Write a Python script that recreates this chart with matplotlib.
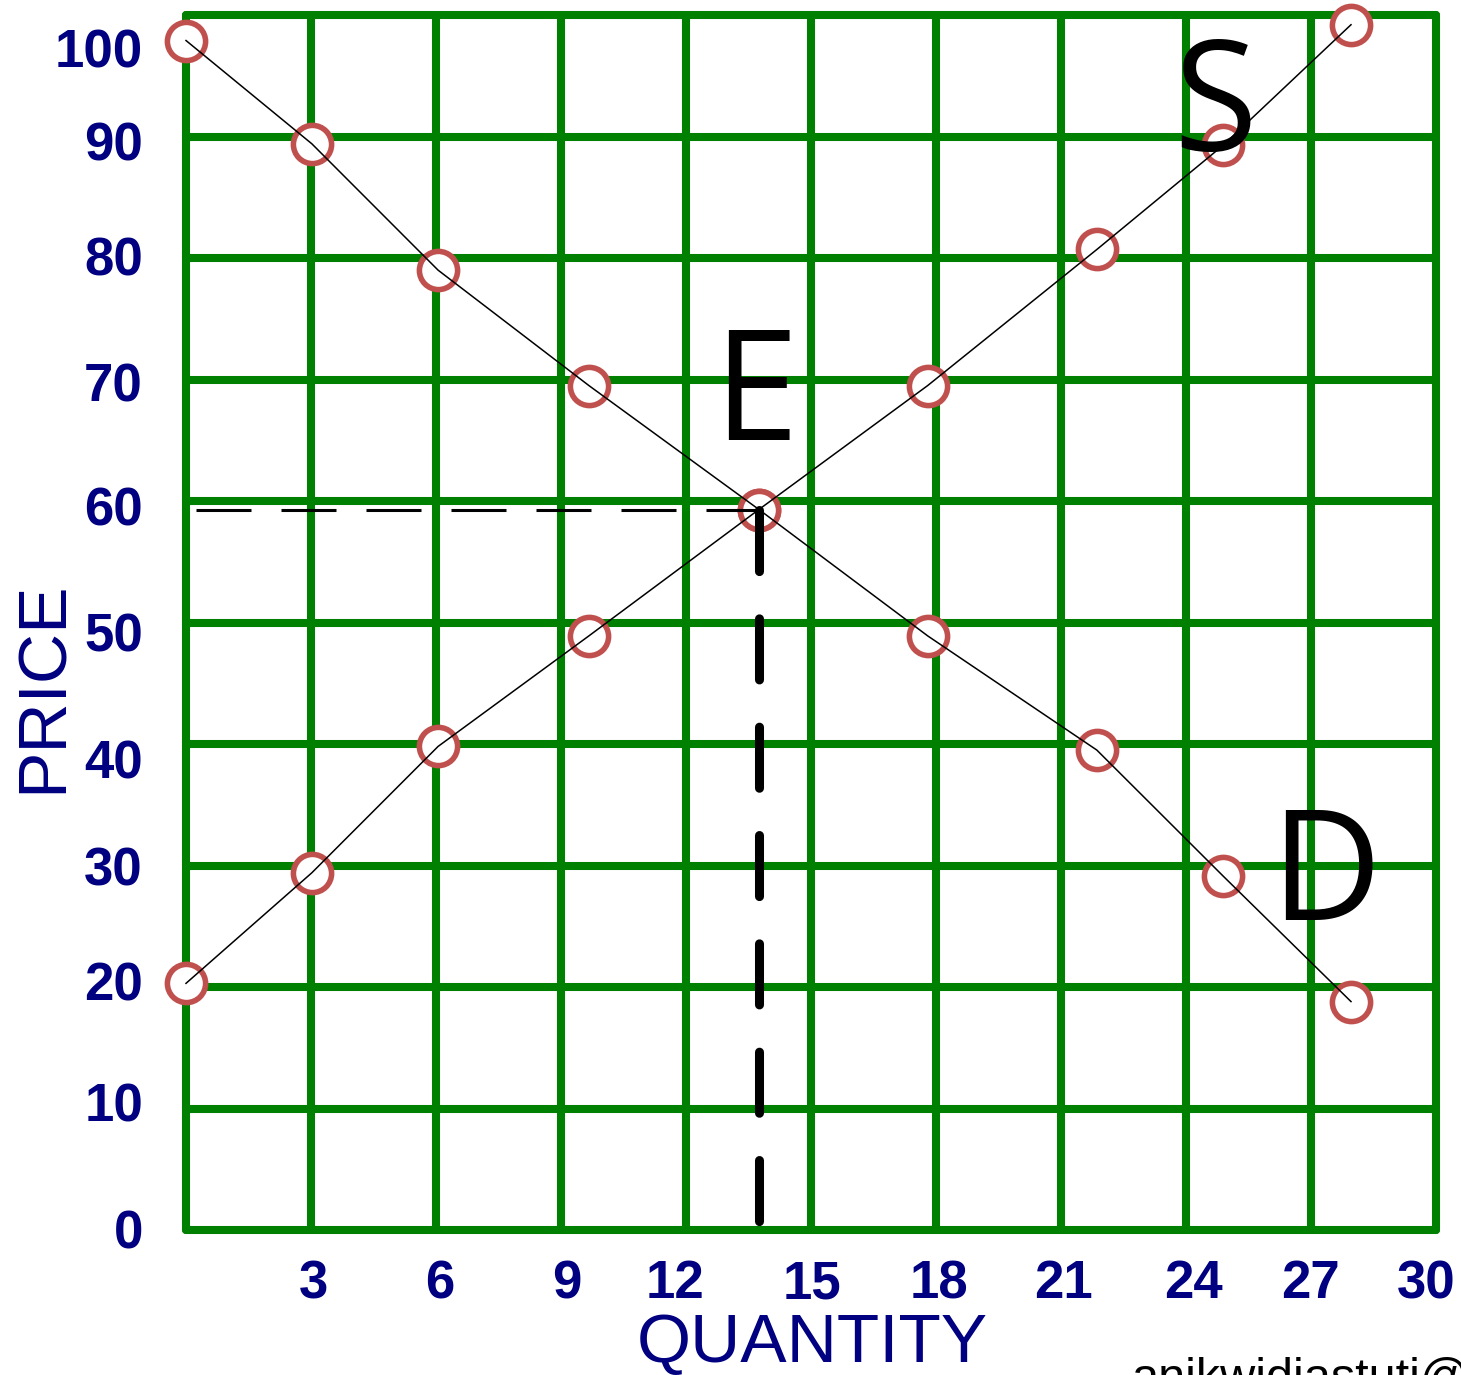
import matplotlib
matplotlib.use('Agg')
import matplotlib.pyplot as plt
import numpy as np

# ---------------- data ----------------
quantity = [0, 3.02, 6.05, 9.67, 13.75, 17.8, 21.86, 24.9, 27.96]
demand_price = [97.9, 89.4, 79.0, 69.5, 59.3, 48.9, 39.5, 29.1, 18.8]
supply_price = [20.3, 29.4, 39.8, 48.9, 59.3, 69.5, 80.7, 89.3, 99.2]
equilibrium_index = 4

x_ticklabels = ['3', '6', '9', '12', '15', '18', '21', '24', '27', '30']
y_ticklabels = ['0', '10', '20', '30', '40', '50', '60', '70', '80', '90', '100']
curve_labels = ['S', 'E', 'D']
x_title = 'QUANTITY'
y_title = 'PRICE'
credit = 'anikwidiastuti@'

# ---------------- styling / layout ----------------
plt.rcParams['lines.scale_dashes'] = False
GREEN = '#008000'
NAVY = '#000080'
RING = '#C0504D'

W, H = 1461, 1375
fig = plt.figure(figsize=(W / 100, H / 100), dpi=100)
ax = fig.add_axes([186 / W, (H - 1230) / H, 1250 / W, 1215 / H])
ax.set_xlim(0, 30)
ax.set_ylim(0, 100)
for s in ax.spines.values():
    s.set_visible(False)

# grid
ax.vlines(np.arange(0, 31, 3), 0, 100, colors=GREEN, linewidth=5.8,
          capstyle='round', clip_on=False, zorder=1)
ax.hlines(np.arange(0, 101, 10), 0, 30, colors=GREEN, linewidth=5.8,
          capstyle='round', clip_on=False, zorder=1)

# tick labels (placed as in the hand-made original)
x_label_pos = [3.05, 6.1, 9.14, 11.74, 15.02, 18.07, 21.05, 24.19, 26.98, 29.76]
y_label_pos = [0.1, 10.5, 20.5, 30.0, 38.8, 49.2, 59.6, 69.8, 80.2, 89.6, 97.3]
ax.set_xticks(x_label_pos)
ax.set_xticklabels(x_ticklabels)
ax.set_yticks(y_label_pos)
ax.set_yticklabels(y_ticklabels)
ax.tick_params(axis='both', length=0, labelcolor=NAVY, labelsize=38)
ax.tick_params(axis='x', pad=21)
ax.tick_params(axis='y', pad=31)
for lab in ax.get_xticklabels() + ax.get_yticklabels():
    lab.set_family('Liberation Sans')
    lab.set_fontweight('bold')

# markers (white filled rings above the grid)
for prices in (demand_price, supply_price):
    ax.plot(quantity, prices, linestyle='none', marker='o', markersize=27.5,
            markerfacecolor='white', markeredgecolor=RING, markeredgewidth=4.0,
            clip_on=False, zorder=3)
# curves
ax.plot(quantity, demand_price, color='black', linewidth=1.1, zorder=4, clip_on=False)
ax.plot(quantity, supply_price, color='black', linewidth=1.1, zorder=4, clip_on=False)

# equilibrium guides
eq_q = quantity[equilibrium_index]
eq_p = demand_price[equilibrium_index]
ax.plot([0.24, eq_q], [eq_p, eq_p], color='black', linewidth=2.2,
        dashes=(39.6, 21.6), zorder=5)
ax.plot([eq_q, eq_q], [eq_p, 0], color='black', linewidth=6.5,
        dashes=(44, 34), dash_capstyle='round', zorder=5, clip_on=False)

# curve letters
letter_pos = {'S': (24.7, 88.8), 'E': (13.66, 65.0), 'D': (27.34, 25.5)}
for name in curve_labels:
    lx, ly = letter_pos[name]
    ax.text(lx, ly, name, fontsize=110, family='Open Sans', color='black',
            ha='center', va='baseline', zorder=6)

# axis titles
fig.text(44 / W, 1 - 687 / H, y_title, rotation=90, ha='center', va='center',
         fontsize=50, color=NAVY, family='Liberation Sans')
fig.text(812 / W, (H - 1362) / H, x_title, ha='center', va='baseline',
         fontsize=50, color=NAVY, family='Liberation Sans')
fig.text(1132 / W, (H - 1392) / H, credit, ha='left', va='baseline',
         fontsize=35, color='black', family='Liberation Sans')

fig.savefig('out.png', dpi=100)
